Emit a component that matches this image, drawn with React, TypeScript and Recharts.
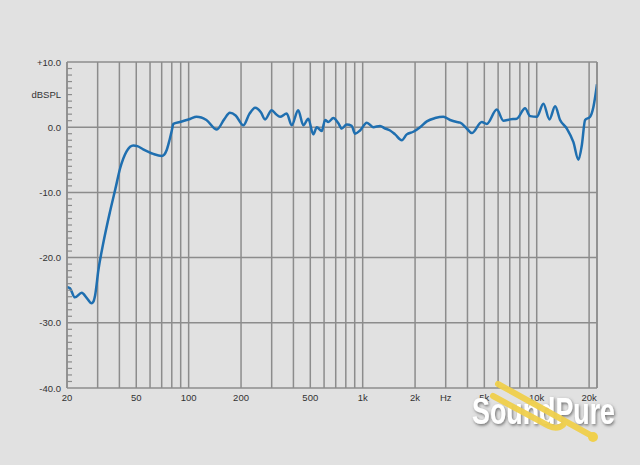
import React from "react";
import { CartesianGrid, Line, LineChart, ReferenceLine, XAxis, YAxis } from "recharts";

// frequency response (Hz, dB SPL)
const freqs = [
  20, 20.8, 22.2, 24.3, 26.0, 27.7, 28.3, 29.0, 30.3, 32.2, 35.3, 37.9, 40.4, 44.0, 48.1, 50.7, 54.8, 62.7,
  70.0, 72.4, 74.8, 77.6, 80.0, 81.7, 89.0, 97.3, 102.5, 110.9, 118.2, 126.5, 145.3, 160, 172.6, 186.2, 206.2,
  223, 241, 260, 274.8, 300, 318, 335, 366, 391, 426, 456, 487, 520, 545, 582, 608, 635, 678, 725, 758, 809,
  865, 904, 966, 1056, 1152, 1258, 1345, 1437, 1535, 1678, 1792, 1955, 2136, 2336, 2607, 2909, 3179, 3474,
  3629, 3963, 4234, 4835, 5166, 5896, 6433, 7032, 7682, 8574, 9163, 10011, 10927, 11829, 12759, 13622, 14891,
  16251, 17356, 18155, 18967, 20265, 21169, 22200,
];
const spl = [
  -24.5, -24.7, -26.1, -25.4, -26.2, -27.0, -26.8, -25.8, -21.9, -18.0, -13.0, -9.5, -6.3, -3.7, -2.8, -2.9,
  -3.4, -4.1, -4.4, -4.2, -3.5, -2.0, -0.5, 0.5, 0.8, 1.1, 1.3, 1.6, 1.5, 1.1, -0.35, 1.2, 2.2, 1.8, 0.3, 2.0,
  3.0, 2.3, 1.2, 2.6, 2.0, 1.6, 2.1, 0.3, 2.6, 0.3, 1.3, -1.1, 0.0, -0.6, 1.1, 0.8, 1.4, 0.6, -0.2, 0.4, 0.2,
  -1.0, -0.5, 0.7, 0.0, 0.2, -0.2, -0.5, -1.1, -2.0, -1.1, -0.7, 0.0, 0.9, 1.4, 1.6, 1.1, 0.8, 0.7, -0.2, -0.9,
  0.8, 0.5, 2.7, 1.0, 1.2, 1.3, 2.9, 1.7, 1.6, 3.6, 1.2, 3.2, 1.1, -0.2, -2.3, -5.0, -2.8, 1.1, 1.6, 3.1, 6.6,
];

const freqGrid = [
  20, 30, 40, 50, 60, 70, 80, 90, 100, 200, 300, 400, 500, 600, 700, 800, 900, 1000, 2000, 3000, 4000, 5000,
  6000, 7000, 8000, 9000, 10000, 20000,
];
const freqLabelValues = [20, 50, 100, 200, 500, 1000, 2000, 3000, 5000, 10000, 20000];
const freqLabelText = ["20", "50", "100", "200", "500", "1k", "2k", "Hz", "5k", "10k", "20k"];

const dbTicks = Array.from({ length: 51 }, (_, i) => -40 + i);
const dbLabelValues = [10, 5, 0, -10, -20, -30, -40];
const dbLabelText = ["+10.0", "dBSPL", "0.0", "-10.0", "-20.0", "-30.0", "-40.0"];
const dbGrid = [-30, -20, -10, 0, 10];

const data = freqs.map((f, i) => ({ f, db: spl[i] }));

const GRID = "#8c8c8c";
const TEXT = "#333";
const FONT = "'Liberation Sans', Arial, sans-serif";

const LeftTick = (props: any) => {
  const { x, y, payload } = props;
  const v = payload.value;
  const idx = dbLabelValues.indexOf(v);
  const ax = x + 6;
  return (
    <g>
      {v % 10 !== 0 && <line x1={ax} x2={ax + 5} y1={y} y2={y} stroke={GRID} strokeWidth={1.2} />}
      {idx >= 0 && (
        <text x={x} y={y} dy={3.5} textAnchor="end" fontSize={9.5} fill={TEXT} fontFamily={FONT}>
          {dbLabelText[idx]}
        </text>
      )}
    </g>
  );
};

const RightTick = (props: any) => {
  const { x, y, payload } = props;
  if (payload.value % 10 === 0) return <g />;
  return <line x1={x - 5} x2={x} y1={y} y2={y} stroke={GRID} strokeWidth={1.2} />;
};

const FreqTick = (props: any) => {
  const { x, y, payload } = props;
  const idx = freqLabelValues.indexOf(payload.value);
  if (idx < 0) return <g />;
  return (
    <text x={x} y={y} dy={9} textAnchor="middle" fontSize={9.5} fill={TEXT} fontFamily={FONT}>
      {freqLabelText[idx]}
    </text>
  );
};

function Watermark() {
  return (
    <svg width={640} height={465} style={{ position: "absolute", left: 0, top: 0, pointerEvents: "none" }}>
      <defs>
        <filter id="shadow" x="-10%" y="-30%" width="120%" height="160%">
          <feDropShadow dx="1" dy="1.5" stdDeviation="1.5" floodColor="#555" floodOpacity="0.8" />
        </filter>
      </defs>
      <text
        x={472}
        y={424}
        fontSize={36}
        fontWeight="bold"
        fill="#ffffff"
        fontFamily="'Liberation Sans Narrow', 'Liberation Sans', Arial, sans-serif"
        textLength={143}
        lengthAdjust="spacingAndGlyphs"
        filter="url(#shadow)"
      >
        SoundPure
      </text>
      <g stroke="#f0d04c" strokeWidth={6} strokeLinecap="round" fill="none" opacity={0.95}>
        <path d="M498 384 L592 436" />
        <path d="M493 396 L549 426 Q557 430 563 425" />
      </g>
      <circle cx={593} cy={437} r={5} fill="#f0d04c" />
    </svg>
  );
}

export default function App() {
  return (
    <div style={{ position: "absolute", left: 0, top: 0, width: 640, height: 465, background: "#e1e1e1" }}>
      <LineChart width={640} height={465} data={data} margin={{ top: 62, right: 33, bottom: 47, left: 7 }}>
        <CartesianGrid horizontal={false} stroke={GRID} strokeWidth={1.5} />
        <XAxis
          dataKey="f"
          type="number"
          scale="log"
          domain={[20, 22200]}
          ticks={freqGrid}
          interval={0}
          allowDataOverflow
          tickLine={false}
          tickSize={0}
          tickMargin={4}
          axisLine={{ stroke: GRID, strokeWidth: 1.5 }}
          tick={<FreqTick />}
        />
        <YAxis
          yAxisId="l"
          type="number"
          domain={[-40, 10]}
          ticks={dbTicks}
          interval={0}
          width={60}
          tickLine={false}
          tickSize={0}
          tickMargin={6}
          axisLine={{ stroke: GRID, strokeWidth: 1.5 }}
          tick={<LeftTick />}
        />
        <YAxis
          yAxisId="r"
          orientation="right"
          type="number"
          domain={[-40, 10]}
          ticks={dbTicks}
          interval={0}
          width={10}
          tickLine={false}
          tickSize={0}
          tickMargin={0}
          axisLine={{ stroke: GRID, strokeWidth: 1.5 }}
          tick={<RightTick />}
        />
        {dbGrid.map((v) => (
          <ReferenceLine key={v} yAxisId="l" y={v} stroke={GRID} strokeWidth={1.5} />
        ))}
        <Line
          yAxisId="l"
          dataKey="db"
          type="monotone"
          stroke="#1f6fb0"
          strokeWidth={2.5}
          dot={false}
          isAnimationActive={false}
        />
      </LineChart>
      <Watermark />
    </div>
  );
}
